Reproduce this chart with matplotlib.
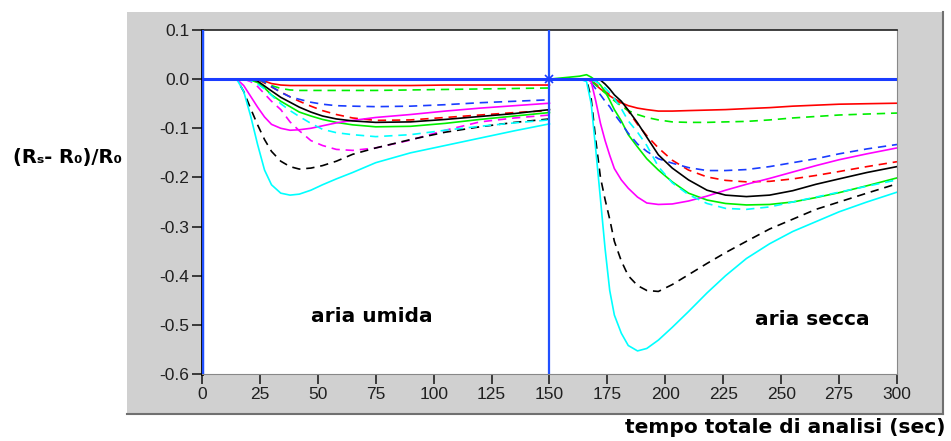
import numpy as np
import matplotlib
matplotlib.use('Agg')
import matplotlib.pyplot as plt
from matplotlib.patches import Rectangle
from matplotlib.lines import Line2D

plt.rcParams['axes.unicode_minus'] = False

# time grids (sec) for the two phases
t_umida = [0, 15, 18, 21, 24, 27, 30, 34, 38, 42, 47, 52, 58, 65, 75, 90, 105, 120, 135, 150]
t_secca = [150, 163, 166, 168, 170, 172, 174, 176, 178, 181, 184, 188, 192, 197, 203, 210,
           218, 226, 235, 245, 255, 265, 275, 287, 300]

y_ticks = [-0.6, -0.5, -0.4, -0.3, -0.2, -0.1, 0.0, 0.1]
y_tick_labels = ['-0.6', '-0.5', '-0.4', '-0.3', '-0.2', '-0.1', '0.0', '0.1']

# aria umida (0-150 s)
red_umida = [0, 0, 0, 0, 0, -0.004, -0.009, -0.012, -0.013, -0.013, -0.013, -0.013, -0.013,
             -0.013, -0.013, -0.013, -0.012, -0.012, -0.012, -0.012]
red_d_umida = [0, 0, 0, 0, 0, -0.008, -0.016, -0.026, -0.036, -0.045, -0.055, -0.064, -0.072,
               -0.079, -0.084, -0.083, -0.078, -0.073, -0.068, -0.064]
green_umida = [0, 0, 0, -0.002, -0.007, -0.018, -0.032, -0.045, -0.056, -0.067, -0.075, -0.082,
               -0.088, -0.093, -0.097, -0.096, -0.090, -0.082, -0.075, -0.068]
green_d_umida = [0, 0, 0, 0, 0, -0.006, -0.013, -0.019, -0.022, -0.023, -0.023, -0.023, -0.023,
                 -0.023, -0.023, -0.022, -0.021, -0.020, -0.019, -0.018]
blue_d_umida = [0, 0, 0, 0, 0, -0.006, -0.015, -0.027, -0.036, -0.041, -0.047, -0.051, -0.054,
                -0.055, -0.056, -0.055, -0.052, -0.048, -0.045, -0.042]
magenta_umida = [0, 0, -0.013, -0.035, -0.057, -0.077, -0.092, -0.100, -0.104, -0.103, -0.100,
                 -0.095, -0.089, -0.084, -0.078, -0.072, -0.065, -0.059, -0.054, -0.049]
magenta_d_umida = [0, 0, 0, -0.005, -0.015, -0.030, -0.045, -0.062, -0.087, -0.105, -0.125,
                   -0.135, -0.143, -0.145, -0.140, -0.124, -0.104, -0.087, -0.079, -0.073]
black_umida = [0, 0, 0, 0, -0.004, -0.014, -0.024, -0.037, -0.047, -0.057, -0.067, -0.075,
               -0.081, -0.085, -0.088, -0.087, -0.082, -0.076, -0.070, -0.062]
black_d_umida = [0, 0, -0.025, -0.060, -0.093, -0.123, -0.147, -0.167, -0.178, -0.183, -0.181,
                 -0.176, -0.167, -0.153, -0.140, -0.123, -0.108, -0.097, -0.088, -0.081]
cyan_umida = [0, 0, -0.025, -0.075, -0.133, -0.185, -0.215, -0.232, -0.236, -0.234, -0.226,
              -0.215, -0.203, -0.190, -0.170, -0.150, -0.135, -0.120, -0.105, -0.091]
cyan_d_umida = [0, 0, 0, -0.003, -0.010, -0.020, -0.033, -0.050, -0.064, -0.076, -0.090, -0.102,
                -0.109, -0.113, -0.117, -0.113, -0.104, -0.096, -0.089, -0.083]

# aria secca (150-300 s)
red_secca = [0, 0, 0, -0.004, -0.012, -0.020, -0.027, -0.034, -0.040, -0.048, -0.054, -0.059,
             -0.062, -0.065, -0.065, -0.064, -0.063, -0.062, -0.060, -0.058, -0.055, -0.053,
             -0.051, -0.050, -0.049]
red_d_secca = [0, 0, 0, -0.003, -0.010, -0.018, -0.025, -0.032, -0.040, -0.050, -0.065, -0.092,
               -0.115, -0.140, -0.165, -0.185, -0.199, -0.206, -0.209, -0.208, -0.203, -0.196,
               -0.188, -0.178, -0.168]
green_secca = [0, 0.006, 0.009, 0.004, -0.003, -0.012, -0.025, -0.043, -0.062, -0.085, -0.113,
               -0.138, -0.162, -0.185, -0.209, -0.232, -0.246, -0.253, -0.256, -0.255, -0.250,
               -0.241, -0.231, -0.217, -0.201]
green_d_secca = [0, 0, 0, -0.004, -0.012, -0.020, -0.028, -0.036, -0.044, -0.055, -0.064, -0.072,
                 -0.078, -0.083, -0.087, -0.088, -0.088, -0.087, -0.086, -0.083, -0.079, -0.076,
                 -0.073, -0.071, -0.069]
blue_d_secca = [0, 0, 0, -0.008, -0.020, -0.032, -0.045, -0.056, -0.071, -0.090, -0.110, -0.132,
                -0.147, -0.162, -0.171, -0.180, -0.186, -0.186, -0.184, -0.178, -0.170, -0.162,
                -0.152, -0.142, -0.133]
magenta_secca = [0, 0, 0, -0.005, -0.045, -0.090, -0.125, -0.155, -0.182, -0.205, -0.222, -0.240,
                 -0.252, -0.255, -0.254, -0.248, -0.238, -0.226, -0.214, -0.202, -0.189, -0.176,
                 -0.164, -0.152, -0.140]
magenta_d_secca = [0] * 25
black_secca = [0, 0, 0, 0, 0, -0.002, -0.010, -0.020, -0.032, -0.045, -0.063, -0.089, -0.118,
               -0.154, -0.181, -0.205, -0.226, -0.236, -0.239, -0.236, -0.227, -0.214, -0.203,
               -0.190, -0.178]
black_d_secca = [0, 0, 0, -0.040, -0.125, -0.200, -0.245, -0.285, -0.330, -0.370, -0.400, -0.420,
                 -0.430, -0.432, -0.418, -0.398, -0.375, -0.353, -0.330, -0.305, -0.285, -0.265,
                 -0.250, -0.232, -0.213]
cyan_secca = [0, 0, -0.005, -0.050, -0.145, -0.244, -0.345, -0.430, -0.480, -0.517, -0.542, -0.553,
              -0.548, -0.531, -0.505, -0.473, -0.435, -0.400, -0.365, -0.335, -0.310, -0.290,
              -0.270, -0.250, -0.230]
cyan_d_secca = [0, 0, 0, -0.002, -0.005, -0.010, -0.018, -0.028, -0.040, -0.060, -0.085, -0.108,
                -0.135, -0.178, -0.211, -0.235, -0.253, -0.263, -0.265, -0.260, -0.250, -0.240,
                -0.230, -0.218, -0.205]

baseline_t = [0, 300]
baseline_y = [0, 0]

series = [
    ('#ff0000', '-', red_umida, red_secca),
    ('#ff0000', '--', red_d_umida, red_d_secca),
    ('#00ee00', '-', green_umida, green_secca),
    ('#00ee00', '--', green_d_umida, green_d_secca),
    ('#1a3cff', '--', blue_d_umida, blue_d_secca),
    ('#ff00ff', '-', magenta_umida, magenta_secca),
    ('#ff00ff', '--', magenta_d_umida, magenta_d_secca),
    ('#000000', '-', black_umida, black_secca),
    ('#000000', '--', black_d_umida, black_d_secca),
    ('#00ffff', '-', cyan_umida, cyan_secca),
    ('#00ffff', '--', cyan_d_umida, cyan_d_secca),
]

fig = plt.figure(figsize=(9.51, 4.41), dpi=100)

# grey panel behind the graph
fig.patches.append(Rectangle((0.1335, 0.0612), 0.858, 0.9116, transform=fig.transFigure,
                             facecolor='#d0d0d0', edgecolor='none', zorder=-10))
fig.lines.append(Line2D([0.1335, 0.9916], [0.0612, 0.0612], transform=fig.transFigure,
                        color='#707070', lw=1.5, zorder=-9))
fig.lines.append(Line2D([0.9916, 0.9916], [0.0612, 0.9728], transform=fig.transFigure,
                        color='#707070', lw=1.5, zorder=-9))

ax = fig.add_axes([0.2124, 0.1519, 0.7308, 0.7801])
ax.set_facecolor('white')

for color, ls, yu, ys in series:
    kw = dict(color=color, lw=1.2)
    l1, = ax.plot(t_umida, yu, **kw)
    l2, = ax.plot(t_secca, ys, **kw)
    if ls == '--':
        l1.set_dashes((5, 3.5))
        l2.set_dashes((5, 3.5))

ax.plot(baseline_t, baseline_y, color='#1a3cff', lw=2.2, zorder=5)
ax.plot([150], [0], marker='x', color='#1a3cff', ms=6, mew=1.2, zorder=6)
ax.axvline(0, color='#2050ff', lw=2.5, zorder=4)
ax.axvline(150, color='#2050ff', lw=1.6, zorder=4)

ax.set_xlim(0, 300)
ax.set_ylim(-0.6, 0.1)
ax.set_xticks(np.arange(0, 301, 25))
ax.set_yticks(y_ticks)
ax.set_yticklabels(y_tick_labels)
ax.tick_params(direction='out', length=7, width=1.2, labelsize=12.5, colors='#202020', pad=2)
for lab in ax.get_xticklabels() + ax.get_yticklabels():
    lab.set_family('Liberation Sans')

ax.spines['left'].set_color('black')
ax.spines['left'].set_linewidth(2)
ax.spines['top'].set_color('#202020')
ax.spines['top'].set_linewidth(1.2)
ax.spines['right'].set_color('#888888')
ax.spines['bottom'].set_color('#888888')

ax.text(73.5, -0.482, 'aria umida', ha='center', va='center', fontsize=14.5,
        fontweight='bold', family='DejaVu Sans')
ax.text(263.5, -0.49, 'aria secca', ha='center', va='center', fontsize=14.5,
        fontweight='bold', family='DejaVu Sans')

fig.text(0.9937, 0.03, 'tempo totale di analisi (sec)', ha='right', va='center',
         fontsize=14.5, fontweight='bold', family='DejaVu Sans')
fig.text(0.071, 0.642, '(R\u209b- R\u2080)/R\u2080', ha='center', va='center',
         fontsize=14, fontweight='bold', family='DejaVu Sans')

fig.savefig('out.png', dpi=100)
